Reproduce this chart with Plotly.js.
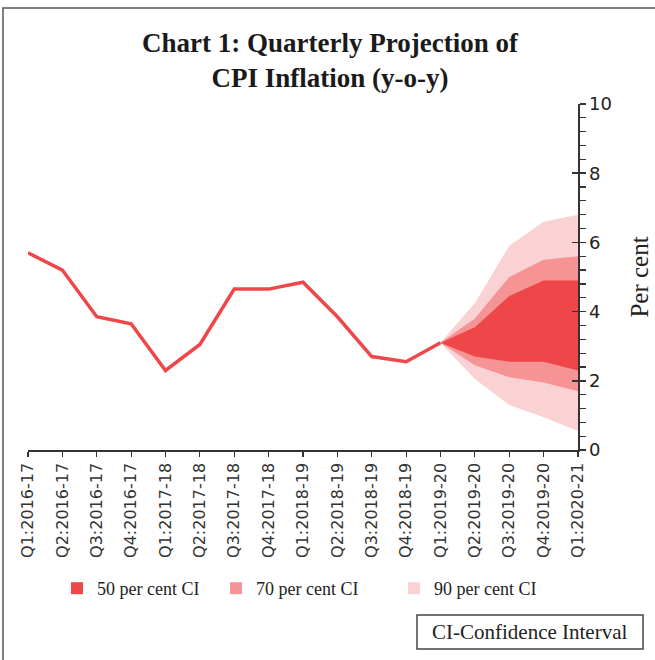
<!DOCTYPE html>
<html>
<head>
<meta charset="utf-8">
<script src="https://cdn.plot.ly/plotly-3.0.1.min.js"></script>
<style>html,body{margin:0;padding:0;background:#fff;}#chart{width:655px;height:660px;}</style>
</head>
<body>
<div id="chart"></div>
<script>
// Categories (quarters)
const quarters = ["Q1:2016-17","Q2:2016-17","Q3:2016-17","Q4:2016-17",
  "Q1:2017-18","Q2:2017-18","Q3:2017-18","Q4:2017-18",
  "Q1:2018-19","Q2:2018-19","Q3:2018-19","Q4:2018-19",
  "Q1:2019-20","Q2:2019-20","Q3:2019-20","Q4:2019-20","Q1:2020-21"];
// Actual CPI inflation (per cent), Q1:2016-17 to Q1:2019-20
const actualQuarters = quarters.slice(0, 13);
const actualCPI = [5.7, 5.2, 3.85, 3.65, 2.3, 3.05, 4.65, 4.65, 4.85, 3.85, 2.7, 2.55, 3.1];
// Projection fan, Q1:2019-20 to Q1:2020-21
const projQuarters = quarters.slice(12);
const ci90Upper = [3.1, 4.25, 5.9, 6.6, 6.8];
const ci70Upper = [3.1, 3.8, 5.0, 5.5, 5.6];
const ci50Upper = [3.1, 3.55, 4.45, 4.9, 4.9];
const ci50Lower = [3.1, 2.7, 2.55, 2.55, 2.3];
const ci70Lower = [3.1, 2.45, 2.1, 1.95, 1.7];
const ci90Lower = [3.1, 2.05, 1.3, 0.95, 0.55];
const legendNames = ["50 per cent CI", "70 per cent CI", "90 per cent CI"];
const yTicks = [0, 2, 4, 6, 8, 10];

const C50 = "#ef4649", C70 = "#f59395", C90 = "#fbd2d3", LINE = "#ef4649";
const serif = "Liberation Serif, serif";
const sans = "DejaVu Sans, sans-serif";

function band(lo, hi, color) {
  return [
    {x: projQuarters, y: lo, type: "scatter", mode: "lines", line: {width: 0, color: color},
     hoverinfo: "skip", showlegend: false},
    {x: projQuarters, y: hi, type: "scatter", mode: "lines", line: {width: 0, color: color},
     fill: "tonexty", fillcolor: color, hoverinfo: "skip", showlegend: false}
  ];
}

const data = [].concat(
  band(ci90Lower, ci90Upper, C90),
  band(ci70Lower, ci70Upper, C70),
  band(ci50Lower, ci50Upper, C50),
  [{x: actualQuarters, y: actualCPI, type: "scatter", mode: "lines",
    line: {color: LINE, width: 3.5}, showlegend: false}],
  [
    {x: [null], y: [null], type: "scatter", mode: "markers", name: legendNames[0],
     marker: {symbol: "square", size: 12, color: C50}, legend: "legend", yaxis: "y2"},
    {x: [null], y: [null], type: "scatter", mode: "markers", name: legendNames[1],
     marker: {symbol: "square", size: 12, color: C70}, legend: "legend2", yaxis: "y2"},
    {x: [null], y: [null], type: "scatter", mode: "markers", name: legendNames[2],
     marker: {symbol: "square", size: 12, color: C90}, legend: "legend3", yaxis: "y2"}
  ]
);

const L = 28, R = 77, T = 104, B = 210, W = 655, H = 660;
const pw = W - L - R, ph = H - T - B;
const px = v => (v - L) / pw;
const py = v => (H - B - v) / ph;

const legendBase = {orientation: "h", xanchor: "left", yanchor: "middle",
  font: {family: serif, size: 18, color: "#222"}, bgcolor: "rgba(0,0,0,0)", borderwidth: 0};

const layout = {
  width: W, height: H,
  margin: {l: L, r: R, t: T, b: B},
  paper_bgcolor: "#fff", plot_bgcolor: "#fff",
  title: {
    text: "Chart 1: Quarterly Projection of<br>CPI Inflation (y-o-y)",
    font: {family: serif, size: 27, color: "#1a1a1a", weight: 700},
    x: 330 / W, xanchor: "center", xref: "container",
    y: 1 - 52 / H, yanchor: "middle", yref: "container"
  },
  xaxis: {
    type: "category", categoryorder: "array", categoryarray: quarters,
    range: [0, quarters.length - 1],
    showline: true, linecolor: "#333", linewidth: 1.5,
    ticks: "outside", ticklen: 5, tickcolor: "#333", tickwidth: 1.2,
    tickangle: -90, tickfont: {family: sans, size: 16, color: "#333"},
    showgrid: false, zeroline: false, fixedrange: true
  },
  yaxis: {
    side: "right", range: [0, 10], tickvals: yTicks,
    showline: true, linecolor: "#333", linewidth: 1.5,
    ticks: "outside", ticklen: 6, tickcolor: "#333", tickwidth: 1.5,
    minor: {dtick: 0.4, ticks: "outside", ticklen: 6, tickcolor: "#333", tickwidth: 1.2, showgrid: false},
    tickfont: {family: sans, size: 18, color: "#222"},
    showgrid: false, zeroline: false,
    title: {text: "Per cent", font: {family: serif, size: 25, color: "#222"}, standoff: 19},
    fixedrange: true
  },
  yaxis2: {
    overlaying: "y", side: "right", range: [0, 10], tickvals: yTicks,
    ticks: "inside", ticklen: 6, tickcolor: "#333", tickwidth: 1.5,
    showticklabels: false, showline: false, showgrid: false, zeroline: false, fixedrange: true
  },
  legend: Object.assign({x: px(57), y: py(588.5)}, legendBase),
  legend2: Object.assign({x: px(216), y: py(588.5)}, legendBase),
  legend3: Object.assign({x: px(394), y: py(588.5)}, legendBase),
  shapes: [
    {type: "rect", xref: "paper", yref: "paper", x0: px(3), x1: px(660), y0: py(8), y1: py(665),
     line: {color: "#555", width: 1.5}, fillcolor: "rgba(0,0,0,0)", layer: "below"},
    {type: "rect", xref: "paper", yref: "paper", x0: px(417), x1: px(643), y0: py(615), y1: py(649),
     line: {color: "#444", width: 1.5}, fillcolor: "rgba(0,0,0,0)"}
  ],
  annotations: [
    {text: "CI-Confidence Interval", xref: "paper", yref: "paper", x: px(530), y: py(632),
     xanchor: "center", yanchor: "middle", showarrow: false,
     font: {family: serif, size: 21, color: "#222"}}
  ]
};

Plotly.newPlot("chart", data, layout, {displayModeBar: false, staticPlot: true});
</script>
</body>
</html>
